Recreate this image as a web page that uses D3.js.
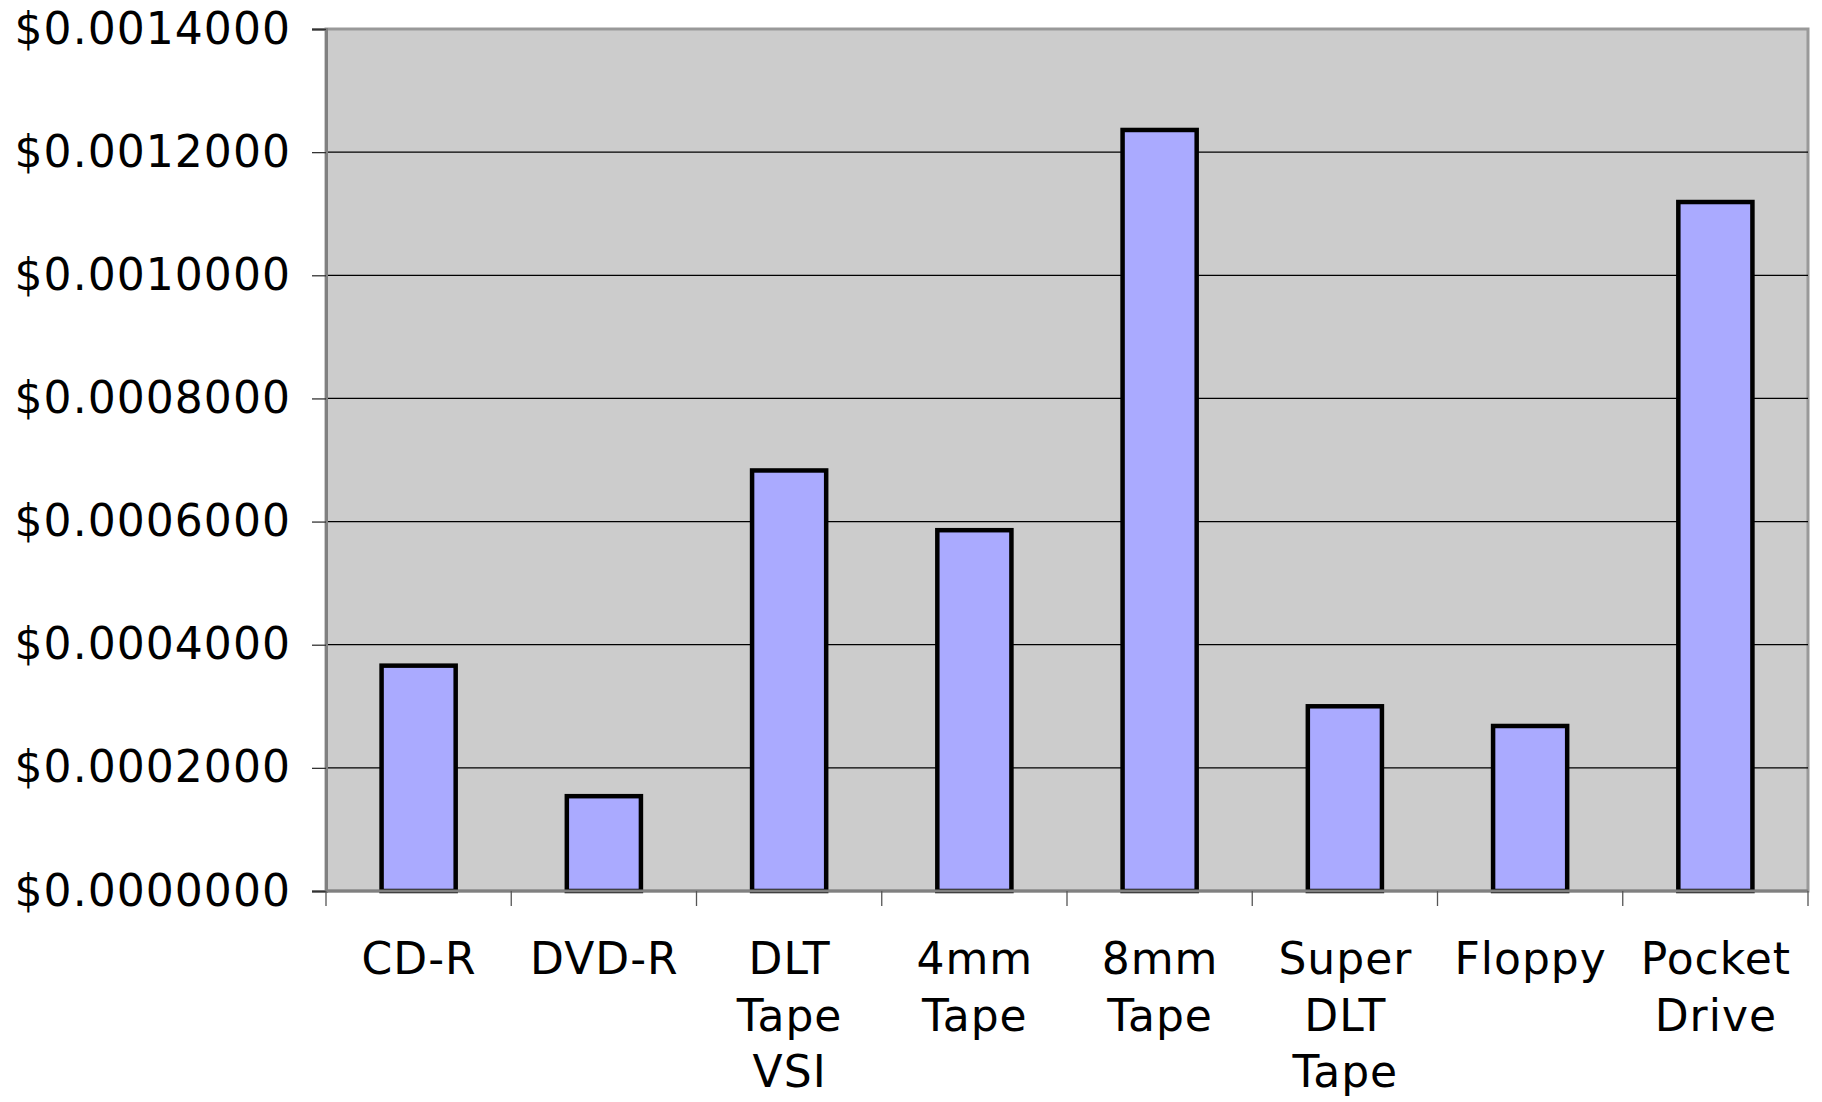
<!DOCTYPE html>
<html>
<head>
<meta charset="utf-8">
<script src="https://cdn.jsdelivr.net/npm/d3@7"></script>
<style>
  html, body { margin: 0; padding: 0; background: #ffffff; }
  svg { display: block; }
  text { font-family: "DejaVu Sans", Verdana, sans-serif; fill: #000; }
</style>
</head>
<body>
<svg id="chart" width="1822" height="1102"></svg>
<script>
// Storage media and cost per megabyte (US dollars)
const categories = ["CD-R", "DVD-R", "DLT Tape VSI", "4mm Tape", "8mm Tape", "Super DLT Tape", "Floppy", "Pocket Drive"];
const costPerMB = [0.000366, 0.000154, 0.000683, 0.000586, 0.001236, 0.000300, 0.000268, 0.001119];
const yTicks = [0, 0.0002, 0.0004, 0.0006, 0.0008, 0.0010, 0.0012, 0.0014];

const svg = d3.select("#chart");
const plot = { left: 326, right: 1808, top: 29, bottom: 891 };

const y = d3.scaleLinear().domain([0, 0.0014]).range([plot.bottom, plot.top]);
// one slot per category (ticks sit on slot boundaries)
const slot = d3.scaleBand().domain(categories).range([plot.left, plot.right]).padding(0);
// bars occupy the middle 40% of each slot
const x = d3.scaleBand().domain(categories).range([plot.left, plot.right])
  .paddingInner(0.6).paddingOuter(0.3);

// plot area background and frame
svg.append("rect")
  .attr("x", plot.left).attr("y", plot.top)
  .attr("width", plot.right - plot.left).attr("height", plot.bottom - plot.top)
  .attr("fill", "#cccccc").attr("stroke", "#999999").attr("stroke-width", 3);

// horizontal gridlines
svg.append("g").selectAll("line")
  .data(yTicks.filter(v => v > 0 && v < 0.0014))
  .join("line")
  .attr("x1", plot.left).attr("x2", plot.right)
  .attr("y1", d => y(d)).attr("y2", d => y(d))
  .attr("stroke", "#000").attr("stroke-width", 1.3);

// bars
svg.append("g").selectAll("rect")
  .data(costPerMB)
  .join("rect")
  .attr("x", (d, i) => x(categories[i]))
  .attr("width", x.bandwidth())
  .attr("y", d => y(d))
  .attr("height", d => y(0) - y(d))
  .attr("fill", "#aaaaff")
  .attr("stroke", "#000").attr("stroke-width", 4.5);

// y axis
const yAxis = svg.append("g")
  .attr("transform", `translate(${plot.left},0)`)
  .call(d3.axisLeft(y).tickValues(yTicks).tickSize(14).tickPadding(21)
    .tickFormat(d => "$" + d.toFixed(7)));
yAxis.select(".domain").attr("stroke", "#808080").attr("stroke-width", 3);
yAxis.selectAll(".tick line").attr("stroke", "#333").attr("stroke-width", 1.3);
yAxis.selectAll(".tick text")
  .attr("font-size", 44).attr("font-family", "DejaVu Sans, Verdana, sans-serif")
  .attr("fill", "#000").attr("letter-spacing", 1.05);

// x axis baseline
svg.append("line")
  .attr("x1", plot.left).attr("x2", plot.right)
  .attr("y1", plot.bottom).attr("y2", plot.bottom)
  .attr("stroke", "#808080").attr("stroke-width", 3);

// x ticks on slot boundaries
const bounds = categories.map(c => slot(c)).concat([plot.right]);
svg.append("g").selectAll("line")
  .data(bounds)
  .join("line")
  .attr("x1", d => d).attr("x2", d => d)
  .attr("y1", plot.bottom).attr("y2", plot.bottom + 15)
  .attr("stroke", "#555").attr("stroke-width", 1.3);

// category labels, one word per line
const labels = svg.append("g").attr("font-size", 44).attr("text-anchor", "middle")
  .attr("letter-spacing", 1);
categories.forEach(c => {
  const cx = slot(c) + slot.bandwidth() / 2 + 0.5;
  const t = labels.append("text")
    .attr("x", cx)
    .attr("y", 974);
  c.split(" ").forEach((w, k) => {
    t.append("tspan")
      .attr("x", cx)
      .attr("dy", k === 0 ? 0 : 56.7)
      .text(w);
  });
});
</script>
</body>
</html>
